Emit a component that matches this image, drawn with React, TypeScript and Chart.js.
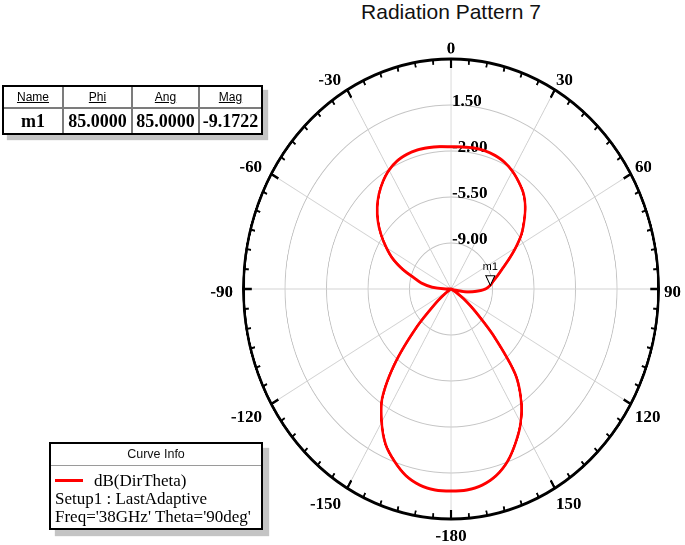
import React, { useEffect, useRef } from "react";
import { Chart, registerables } from "chart.js";

Chart.register(...registerables);

// ---------------- data ----------------
const chartTitle = "Radiation Pattern 7";

const phiDeg = [
  -180, -175, -170, -165, -160, -155, -150, -145, -140, -135, -130, -125,
  -120, -115, -110, -105, -100, -95, -90, -85, -80, -75, -70, -65,
  -60, -55, -50, -45, -40, -35, -30, -25, -20, -15, -10, -5,
  0, 5, 10, 15, 20, 25, 30, 35, 40, 45, 50, 55,
  60, 65, 70, 75, 80, 85, 90, 95, 100, 105, 110, 115,
  120, 125, 130, 135, 140, 145, 150, 155, 160, 165, 170, 175,
];

const dirThetaDb = [
  2.87, 2.85, 2.65, 2.2, 1.45, 0.55, -0.8, -2.4, -5.2, -8.4, -10.8, -11.9,
  -12.4, -13.0, -14.2, -15.1, -14.0, -13.0, -12.1, -10.9, -10.0, -9.3, -8.2, -7.1,
  -6.2, -5.3, -4.45, -3.7, -3.05, -2.5, -2.05, -1.75, -1.6, -1.55, -1.58, -1.63,
  -1.68, -1.65, -1.6, -1.6, -1.68, -1.85, -2.15, -2.55, -3.0, -3.65, -4.45, -5.25,
  -6.2, -7.1, -7.85, -8.4, -8.85, -9.17, -9.6, -10.4, -11.3, -12.3, -13.4, -12.8,
  -12.1, -11.2, -9.8, -7.3, -4.1, -2.2, -0.75, 0.4, 1.45, 2.2, 2.65, 2.85,
];

const radialMin = -12.5;
const radialMax = 5;
const radialStep = 3.5;
const angleLabelStep = 30;

const markerHeaders = ["Name", "Phi", "Ang", "Mag"];
const markerRow = ["m1", "85.0000", "85.0000", "-9.1722"];
const markerName = "m1";
const markerPhi = 85;
const markerMag = -9.1722;

const legendTitle = "Curve Info";
const seriesName = "dB(DirTheta)";
const legendLines = ["Setup1 : LastAdaptive", "Freq='38GHz' Theta='90deg'"];

// ---------------- layout / style ----------------
const CX = 451;
const CY = 289;
const RY = 230;
const RX = 207.5;
const SX = RX / RY;
const SERIF = '"Liberation Serif", "Times New Roman", serif';
const SANS = '"Liberation Sans", Arial, sans-serif';

const polarDecor = {
  id: "polarDecor",
  beforeDatasetsDraw(chart: any) {
    const s = chart.scales.r;
    const ctx = chart.ctx;
    const cx = s.xCenter;
    const cy = s.yCenter;
    ctx.save();
    ctx.fillStyle = "#000";
    ctx.font = `bold 17px ${SERIF}`;
    ctx.textAlign = "left";
    ctx.textBaseline = "alphabetic";
    s.ticks.forEach((t: any, idx: number) => {
      if (idx === 0 || idx === s.ticks.length - 1) return;
      const d = s.getDistanceFromCenterForValue(t.value);
      ctx.save();
      ctx.translate(cx + 1 / SX, cy - d + 1);
      ctx.scale(1 / SX, 1);
      ctx.fillText(Number(t.value).toFixed(2), 0, 0);
      ctx.restore();
    });
    ctx.restore();
  },
  afterDatasetsDraw(chart: any) {
    const s = chart.scales.r;
    const ctx = chart.ctx;
    const cx = s.xCenter;
    const cy = s.yCenter;
    const R = s.drawingArea;
    const labels = chart.data.labels as string[];
    const n = labels.length;
    const step = 360 / n;

    ctx.save();
    // outer ring
    ctx.strokeStyle = "#000";
    ctx.lineWidth = 3;
    ctx.beginPath();
    ctx.arc(cx, cy, R, 0, Math.PI * 2);
    ctx.stroke();

    // tick marks
    for (let i = 0; i < n; i++) {
      const a = i * step;
      const major = a % angleLabelStep === 0;
      const len = major ? 9 : 5;
      const p1 = s.getPointPosition(i, R);
      const p2 = s.getPointPosition(i, R - len);
      ctx.lineWidth = major ? 2.5 : 2;
      ctx.beginPath();
      ctx.moveTo(p1.x, p1.y);
      ctx.lineTo(p2.x, p2.y);
      ctx.stroke();
    }

    // angle labels
    ctx.fillStyle = "#000";
    ctx.font = `bold 17px ${SERIF}`;
    ctx.textBaseline = "alphabetic";
    const H = 11.3;
    for (let i = 0; i < n; i++) {
      const a = i * step;
      if (a % angleLabelStep !== 0) continue;
      const p = s.getPointPosition(i, R);
      const ux = (p.x - cx) * SX;
      const uy = p.y - cy;
      const len = Math.hypot(ux, uy);
      const dx = ux / len;
      const dy = uy / len;
      const centered = a === 0 || a === 180;
      const ax = ux + 8 * dx + (centered ? 0 : -2.5);
      const ay = uy + 8 * dy + 2.5;
      const align = centered ? "center" : a < 180 ? "left" : "right";
      let base: number;
      if (a === 90 || a === 270) base = ay + H / 2;
      else if (a < 90 || a > 270) base = ay;
      else base = ay + H;
      ctx.save();
      ctx.translate(cx + ax / SX, cy + base);
      ctx.scale(1 / SX, 1);
      ctx.textAlign = align;
      ctx.fillText(labels[i], 0, 0);
      ctx.restore();
    }

    // marker
    const mi = (((markerPhi % 360) + 360) % 360) / step;
    const mp = s.getPointPosition(mi, s.getDistanceFromCenterForValue(markerMag));
    ctx.save();
    ctx.translate(mp.x, mp.y);
    ctx.scale(1 / SX, 1);
    ctx.beginPath();
    ctx.moveTo(0, 0);
    ctx.lineTo(-4.5, -9.5);
    ctx.lineTo(4.5, -9.5);
    ctx.closePath();
    ctx.fillStyle = "#fff";
    ctx.fill();
    ctx.strokeStyle = "#000";
    ctx.lineWidth = 1;
    ctx.stroke();
    ctx.fillStyle = "#000";
    ctx.font = `11px ${SANS}`;
    ctx.textAlign = "center";
    ctx.textBaseline = "alphabetic";
    ctx.fillText(markerName, 0, -15);
    ctx.restore();

    ctx.restore();
  },
};

export default function App() {
  const canvasRef = useRef<HTMLCanvasElement | null>(null);
  const wrapRef = useRef<HTMLDivElement | null>(null);

  useEffect(() => {
    const canvas = canvasRef.current;
    const wrap = wrapRef.current;
    if (!canvas || !wrap) return;
    const step = phiDeg[1] - phiDeg[0];
    const n = Math.round(360 / step);
    const labels: string[] = [];
    const values: number[] = [];
    for (let i = 0; i < n; i++) {
      const a = i * step;
      const phi = a >= 180 ? a - 360 : a;
      labels.push(String(phi));
      const k = phiDeg.indexOf(phi);
      values.push(Math.max(dirThetaDb[k], radialMin));
    }

    const chart = new Chart(canvas, {
      type: "radar",
      data: {
        labels,
        datasets: [
          {
            label: seriesName,
            data: values,
            borderColor: "#ff0000",
            borderWidth: 3,
            pointRadius: 0,
            pointHoverRadius: 0,
            fill: false,
            tension: 0.3,
          },
        ],
      },
      options: {
        animation: false,
        responsive: false,
        devicePixelRatio: 2,
        layout: { padding: { left: 50, right: 50, top: 30, bottom: 30 } },
        elements: { line: { borderJoinStyle: "round", borderCapStyle: "round" } },
        plugins: {
          legend: { display: false },
          tooltip: { enabled: false },
          title: { display: false },
        },
        scales: {
          r: {
            min: radialMin,
            max: radialMax,
            ticks: { display: false, stepSize: radialStep },
            pointLabels: { display: false },
            grid: { circular: true, color: "#c4c4c4", lineWidth: 1 },
            angleLines: {
              display: true,
              color: "#d2d2d2",
              lineWidth: (c: any) => ((c.index * step) % angleLabelStep === 0 ? 1 : 0),
            },
          },
        },
      },
      plugins: [polarDecor],
    } as any);

    const s: any = chart.scales.r;
    wrap.style.left = `${CX - s.xCenter}px`;
    wrap.style.top = `${CY - s.yCenter}px`;
    wrap.style.transformOrigin = `${s.xCenter}px ${s.yCenter}px`;
    wrap.style.transform = `scaleX(${SX})`;

    return () => chart.destroy();
  }, []);

  const colWidths = [58, 67, 65, 61];

  return (
    <div
      style={{
        position: "fixed",
        left: 0,
        top: 0,
        width: 685,
        height: 545,
        overflow: "hidden",
        background: "#fff",
      }}
    >
      <div
        ref={wrapRef}
        style={{ position: "absolute", left: 171, top: 29, width: 560, height: 520 }}
      >
        <canvas ref={canvasRef} width={560} height={520} style={{ display: "block" }} />
      </div>

      <div
        style={{
          position: "absolute",
          left: 251,
          top: 0,
          width: 400,
          textAlign: "center",
          font: `21px ${SANS}`,
          lineHeight: "24px",
          color: "#111",
          whiteSpace: "nowrap",
        }}
      >
        {chartTitle}
      </div>

      {/* marker table */}
      <div
        style={{
          position: "absolute",
          left: 2,
          top: 85,
          width: 261,
          height: 50,
          boxSizing: "border-box",
          border: "2px solid #000",
          background: "#7c7c7c",
          boxShadow: "5px 5px 1px #c4c4c4",
          display: "grid",
          gridTemplateColumns: colWidths.map((w) => `${w}px`).join(" "),
          gridTemplateRows: "20px 24px",
          columnGap: 2,
          rowGap: 2,
        }}
      >
        {markerHeaders.map((h) => (
          <div
            key={"h" + h}
            style={{
              background: "#fff",
              display: "flex",
              alignItems: "center",
              justifyContent: "center",
              font: `12px ${SANS}`,
              textDecoration: "underline",
              color: "#000",
            }}
          >
            {h}
          </div>
        ))}
        {markerRow.map((v, i) => (
          <div
            key={"v" + i}
            style={{
              background: "#fff",
              display: "flex",
              alignItems: "center",
              justifyContent: "center",
              font: `bold 18px ${SERIF}`,
              color: "#000",
              whiteSpace: "nowrap",
            }}
          >
            {v}
          </div>
        ))}
      </div>

      {/* curve info legend */}
      <div
        style={{
          position: "absolute",
          left: 49,
          top: 442,
          width: 214,
          height: 88,
          boxSizing: "border-box",
          border: "2px solid #000",
          background: "#fff",
          boxShadow: "6px 6px 1px #c4c4c4",
        }}
      >
        <div
          style={{
            position: "absolute",
            left: 0,
            top: 0,
            width: "100%",
            height: 21,
            borderBottom: "1px solid #9a9a9a",
            textAlign: "center",
            font: `12.5px ${SANS}`,
            lineHeight: "21px",
            color: "#111",
          }}
        >
          {legendTitle}
        </div>
        <div
          style={{
            position: "absolute",
            left: 4,
            top: 35,
            width: 28,
            height: 2.5,
            background: "#ff0000",
          }}
        />
        <div
          style={{
            position: "absolute",
            left: 43,
            top: 27.7,
            font: `17px ${SERIF}`,
            lineHeight: "18px",
            whiteSpace: "nowrap",
            color: "#000",
          }}
        >
          {seriesName}
        </div>
        {legendLines.map((t, i) => (
          <div
            key={t}
            style={{
              position: "absolute",
              left: 4,
              top: 46 + i * 18.3,
              font: `17px ${SERIF}`,
              lineHeight: "18px",
              whiteSpace: "nowrap",
              color: "#000",
            }}
          >
            {t}
          </div>
        ))}
      </div>
    </div>
  );
}
